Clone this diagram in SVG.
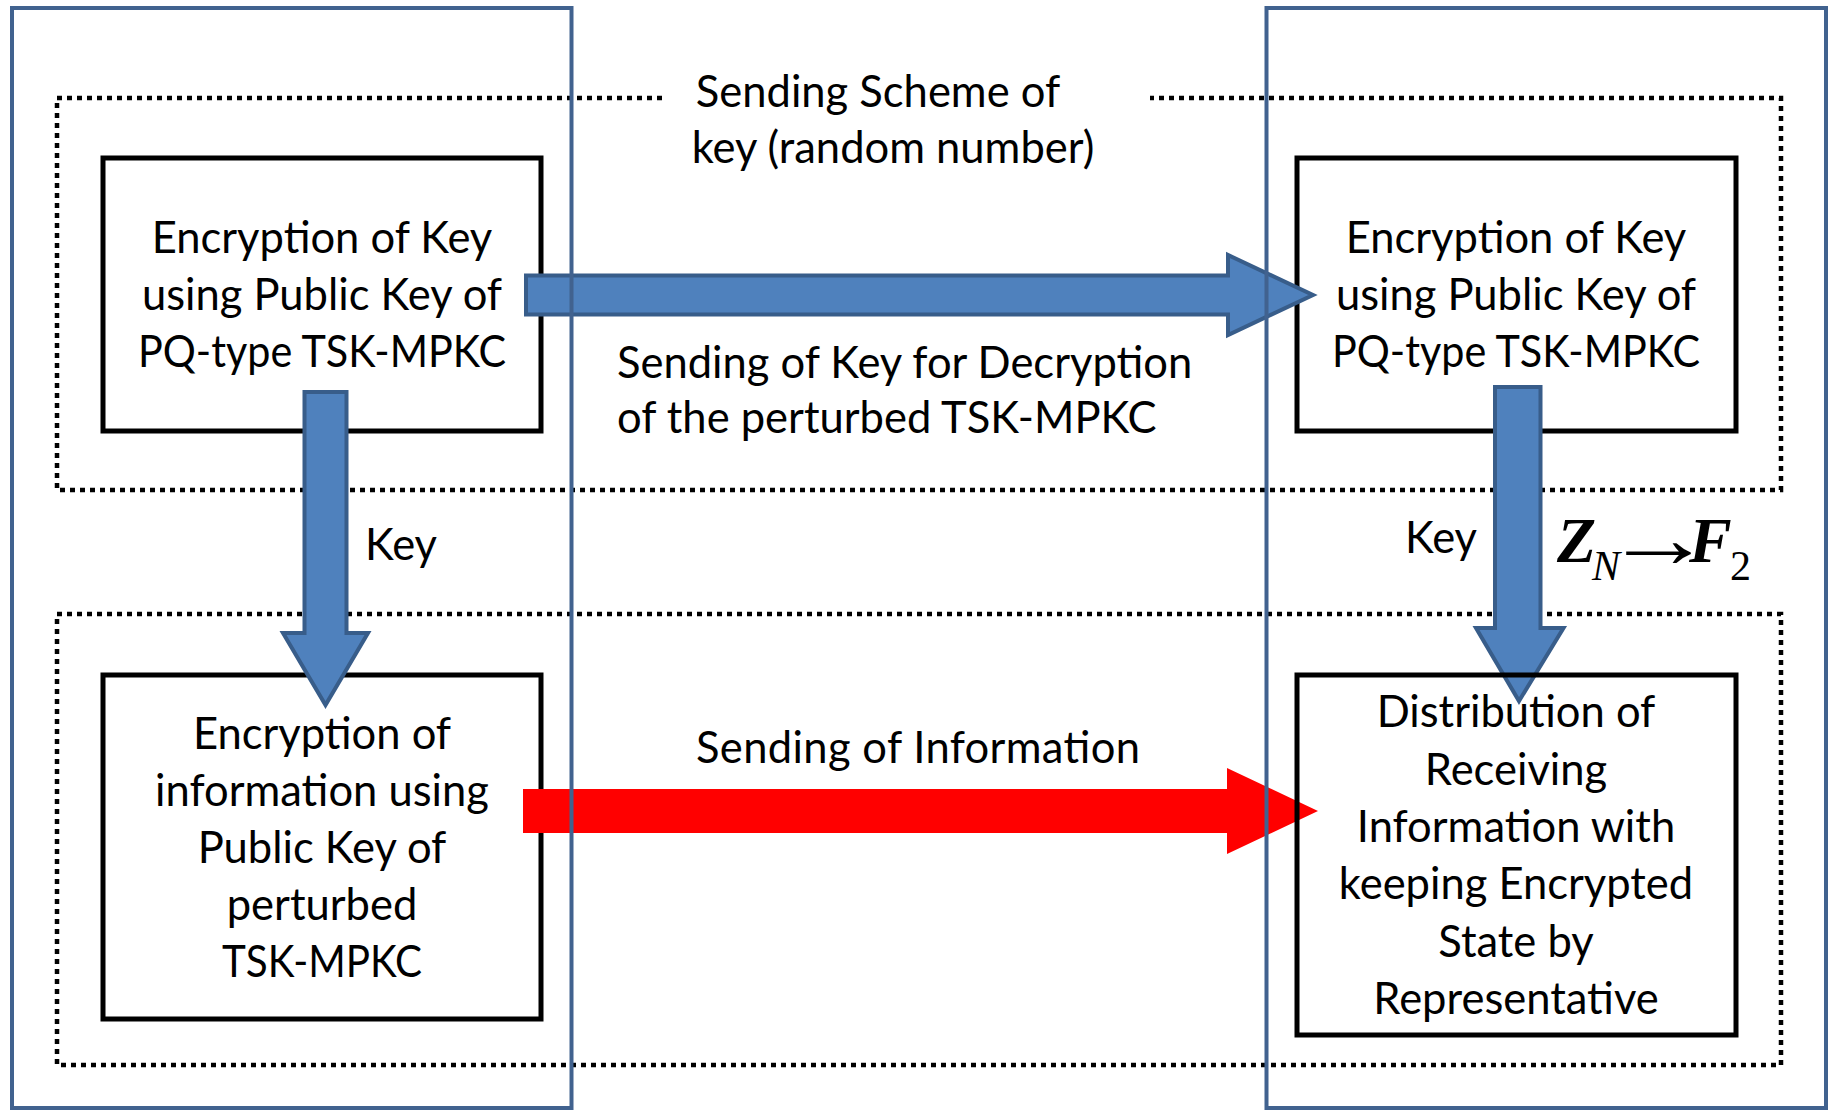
<svg xmlns="http://www.w3.org/2000/svg" width="1835" height="1112" viewBox="0 0 1835 1112">
<style>
.lane{fill:none;stroke:#41628f;stroke-width:4}
.dot{fill:none;stroke:#000;stroke-width:4.5;stroke-dasharray:5 5}
.box{fill:none;stroke:#000;stroke-width:5}
.t{font-family:Lato,"Liberation Sans",sans-serif;font-size:43.5px;fill:#000}
.c{text-anchor:middle}
.barrow{fill:#4f81bd;stroke:#385d8a;stroke-width:4;stroke-linejoin:miter}
.rarrow{fill:#ff0000}
.m{font-family:"Liberation Serif","Times New Roman",serif;fill:#000}
</style>
<rect width="1835" height="1112" fill="#fff"/>
<g id="scheme-frames">
<path class="dot" d="M662,98 H57 V490 H1781 V98 H1150"/>
<rect class="dot" x="57" y="614" width="1724" height="451"/>
</g>
<g id="title">
<text class="t c" x="878" y="107">Sending Scheme of</text>
<text class="t c" x="893" y="163">key (random number)</text>
</g>
<g id="node-tl">
<rect class="box" x="103" y="158" width="438" height="273"/>
<text class="t c" x="322" y="253">Encryption of Key</text>
<text class="t c" x="322" y="310">using Public Key of</text>
<text class="t c" x="322" y="367" textLength="368" lengthAdjust="spacingAndGlyphs">PQ-type TSK-MPKC</text>
</g>
<g id="node-bl">
<rect class="box" x="103" y="675" width="438" height="344"/>
<text class="t c" x="322" y="749">Encryption of</text>
<text class="t c" x="322" y="806">information using</text>
<text class="t c" x="322" y="863">Public Key of</text>
<text class="t c" x="322" y="920">perturbed</text>
<text class="t c" x="322" y="977" textLength="200" lengthAdjust="spacingAndGlyphs">TSK-MPKC</text>
</g>
<g id="node-tr">
<rect class="box" x="1297" y="158" width="439" height="273"/>
<text class="t c" x="1516" y="253">Encryption of Key</text>
<text class="t c" x="1516" y="310">using Public Key of</text>
<text class="t c" x="1516" y="367" textLength="368" lengthAdjust="spacingAndGlyphs">PQ-type TSK-MPKC</text>
</g>
<g id="connectors">
<path id="edge-key-send" class="barrow" d="M526,275.5 H1228 V255 L1313,295 L1228,335 V314.5 H526 Z"/>
<path id="edge-info-send" class="rarrow" d="M523,789 H1227 V768 L1318,811 L1227,854 V833 H523 Z"/>
<path id="edge-key-left" class="barrow" d="M304.5,392 H346.5 V633 H368 L325.5,705 L283,633 H304.5 Z"/>
<path id="edge-key-right" class="barrow" d="M1495,387 H1540.5 V628 H1563.5 L1519,701 L1476,628 H1495 Z"/>
<text class="t" x="617" y="378">Sending of Key for Decryption</text>
<text class="t" x="617" y="433">of the perturbed TSK-MPKC</text>
<text class="t" x="918" y="763" text-anchor="middle" textLength="444" lengthAdjust="spacing">Sending of Information</text>
<text class="t" x="365" y="560">Key</text>
<text class="t" x="1405" y="553">Key</text>
<text class="m"><tspan x="1557" y="562" font-size="64" font-weight="bold" font-style="italic">Z</tspan><tspan x="1592" y="580" font-size="42" font-style="italic">N</tspan></text>
<text class="m" font-size="84" transform="translate(1604,567) scale(1.3,1)">→</text>
<text class="m"><tspan x="1689" y="562" font-size="64" font-weight="bold" font-style="italic">F</tspan><tspan x="1730" y="580" font-size="42">2</tspan></text>
</g>
<g id="node-br">
<rect class="box" x="1297" y="675" width="439" height="360"/>
<text class="t c" x="1516" y="727">Distribution of</text>
<text class="t c" x="1516" y="785">Receiving</text>
<text class="t c" x="1516" y="842">Information with</text>
<text class="t c" x="1516" y="899">keeping Encrypted</text>
<text class="t c" x="1516" y="957">State by</text>
<text class="t c" x="1516" y="1014">Representative</text>
</g>
<g id="lanes">
<rect class="lane" x="12" y="8" width="559.5" height="1100"/>
<rect class="lane" x="1266.5" y="8" width="559.5" height="1100"/>
</g>
</svg>
